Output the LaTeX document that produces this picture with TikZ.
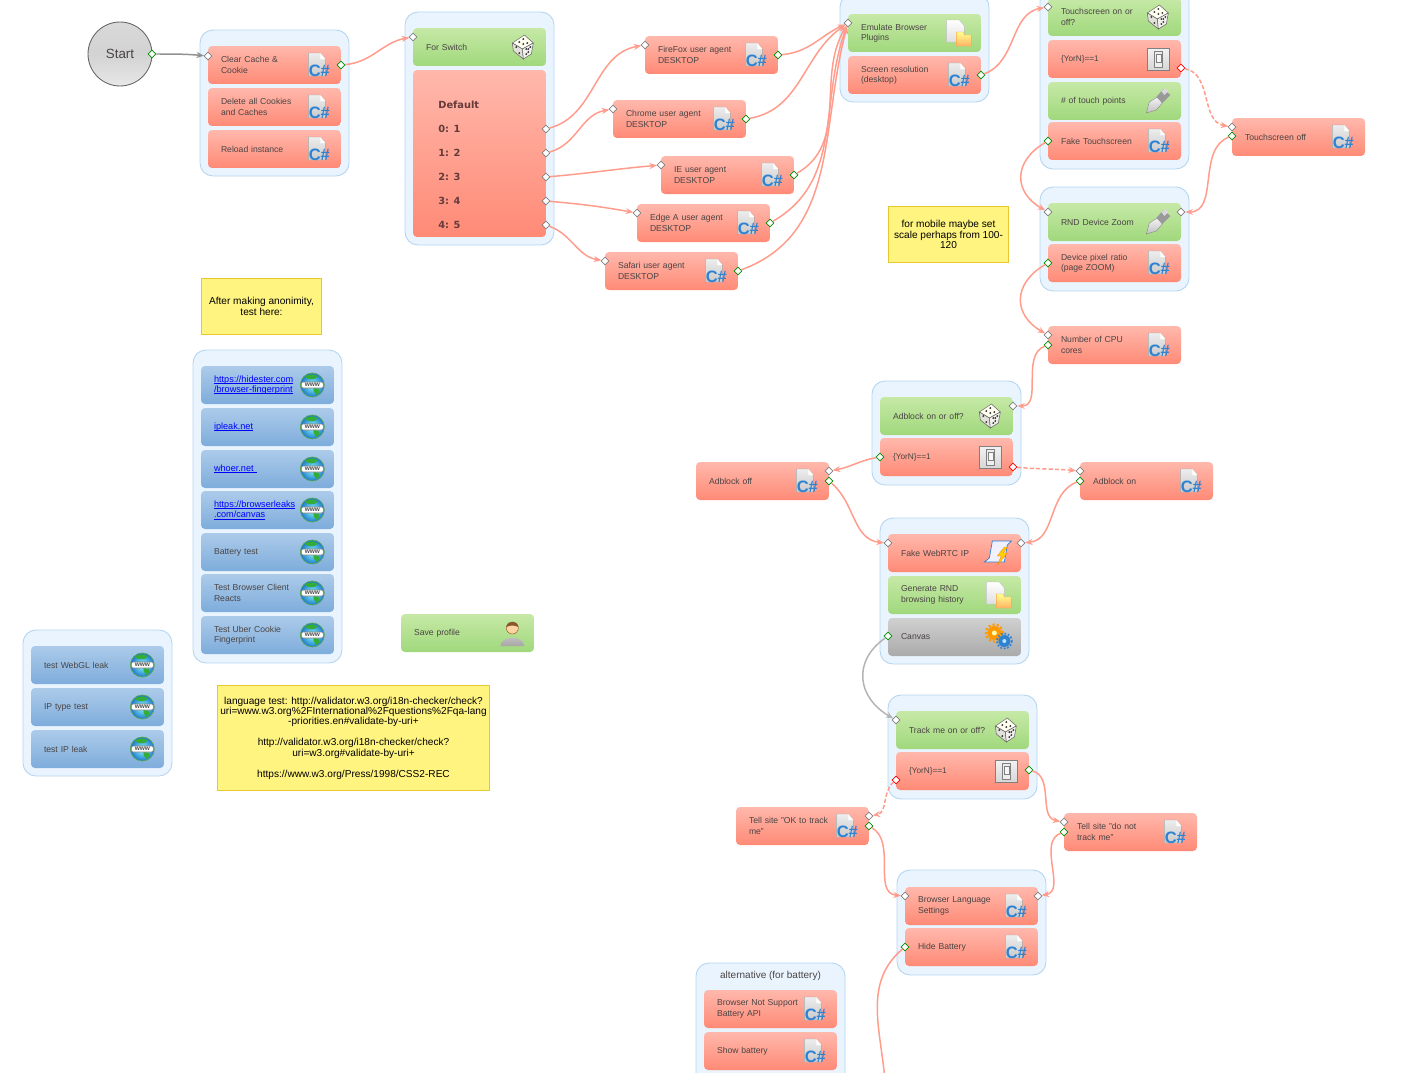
\documentclass[tikz,border=0pt]{standalone}
\usepackage{fontspec}
\setmainfont{Liberation Sans}
\newfontfamily\deffont{DejaVu Sans}
\usetikzlibrary{shapes.geometric,arrows.meta}

\definecolor{paneledge}{HTML}{B4D5F0}
\definecolor{panelfill}{HTML}{EAF4FE}
\definecolor{acttext}{HTML}{4A4444}
\definecolor{linkred}{HTML}{FF9C8C}
\definecolor{linkgray}{HTML}{B4B4B4}
\definecolor{startgray}{HTML}{909090}
\definecolor{notefill}{HTML}{FFF480}
\definecolor{noteedge}{HTML}{E8C830}
\definecolor{csblue}{HTML}{2F82D2}

\newsavebox{\linkbox}
\newcommand{\weblink}[1]{\leavevmode{\fontsize{5.2}{5.95}\selectfont\color{blue}\sbox{\linkbox}{#1}\rlap{\rule[-.7pt]{\wd\linkbox}{.3pt}}\usebox{\linkbox}}}

\tikzset{
panel/.style={draw=paneledge,fill=panelfill,line width=.5pt,rounded corners=.26cm},
act/.style={rounded corners=.08cm,text=acttext,align=left,text width=2.14cm,inner xsep=.26cm,
  inner ysep=0pt,minimum height=.76cm,font=\fontsize{4.9}{5.95}\selectfont},
redact/.style={act,top color={rgb,255:red,255;green,184;blue,172},bottom color={rgb,255:red,255;green,138;blue,118}},
greenact/.style={act,top color={rgb,255:red,198;green,233;blue,166},bottom color={rgb,255:red,160;green,216;blue,124}},
blueact/.style={act,top color={rgb,255:red,172;green,203;blue,233},bottom color={rgb,255:red,126;green,172;blue,220}},
grayact/.style={act,top color={rgb,255:red,208;green,208;blue,208},bottom color={rgb,255:red,170;green,170;blue,170}},
note/.style={draw=noteedge,fill=notefill,line width=.4pt,align=center,inner sep=0pt,text=black,
  font=\fontsize{5.75}{5.95}\selectfont},
port/.style={diamond,inner sep=0pt,minimum size=.16cm,fill=white,line width=.4pt},
portin/.style={port,draw=gray},
portok/.style={port,draw=green!55!black},
portno/.style={port,draw=red},
tip/.style={-{Stealth[length=.15cm,width=.12cm]}},
link/.style={draw=linkred,line width=.85pt,tip},
grlink/.style={draw=linkgray,line width=.85pt,tip},
stlink/.style={draw=startgray,line width=.85pt,tip},
nolink/.style={link,dash pattern=on 2.4pt off 1.2pt},
csicon/.pic={
  \path[draw=gray!70,top color=gray!14,bottom color=gray!42,line width=.2pt]
    (-10,-12) -- (2,-12) -- (7,-6) -- (7,11) -- (-10,11) -- cycle;
  \fill[white] (2,-12) -- (7,-6) -- (2,-6) -- cycle;
  \node[text=csblue,inner sep=0pt,font=\fontsize{9.4}{9.4}\bfseries\selectfont] (-mark) at (1,5.5) {C\#};
},
diceicon/.pic={
  \path[draw=gray!80!black,fill=yellow!6,line width=.3pt] (-11,-4) -- (1,-12) -- (10,-4) -- (-1,2) -- cycle;
  \path[draw=gray!80!black,fill=yellow!12!gray!30,line width=.3pt] (-11,-4) -- (-1,2) -- (0,12) -- (-10,4) -- cycle;
  \path[draw=gray!80!black,fill=yellow!14!gray!14,line width=.3pt] (-1,2) -- (10,-4) -- (8,7) -- (0,12) -- cycle;
  \foreach \dotx/\doty in {-4/-5,0/-8,4/-4,0/-3,-7/0,-4/6,3/2,7/0,5/5,3/7,5/2}
  {
  \fill[black!80] (\dotx,\doty) circle (1.1);
  }
},
switchicon/.pic={
  \path[draw=gray,top color=gray!10,bottom color=gray!32,line width=.3pt] (-11,-11) rectangle (11,11);
  \path[draw=gray,fill=gray!14,line width=.3pt] (-4,-8) rectangle (4,8);
  \path[draw=gray,fill=gray!6,line width=.2pt] (-2.5,-5) rectangle (2.5,3);
},
penicon/.pic={
  \path[draw=gray,top color=gray!8,bottom color=gray!50,line width=.2pt]
    (-12,12) -- (-9,1) -- (-1,-4) -- (4,2) -- (-2,9) -- cycle;
  \path[fill=gray!80] (-2,-4) -- (5,-12) -- (12,-6) -- (4,2) -- cycle;
  \path[fill=gray!30] (3,-10) -- (7,-13) -- (10,-10) -- (6,-6) -- cycle;
},
foldericon/.pic={
  \path[draw=gray!50,top color=white,bottom color=gray!25,line width=.2pt]
    (-12,-13) -- (1,-13) -- (6,-7) -- (6,9) -- (-12,9) -- cycle;
  \path[draw=orange!70,top color=yellow!45,bottom color=orange!60,line width=.2pt]
    (-2,-1) -- (5,-1) -- (6,2) -- (13,2) -- (13,13) -- (-2,13) -- cycle;
},
gearicon/.pic={
  \fill[orange!80!yellow] (-4,-4) circle (7);
  \draw[orange!80!yellow,line width=1.2pt,dash pattern=on 1.2pt off 1.2pt] (-4,-4) circle (8.5);
  \fill[yellow!30] (-4,-4) circle (2.5);
  \fill[csblue] (6,4) circle (6);
  \draw[csblue,line width=1pt,dash pattern=on 1pt off 1pt] (6,4) circle (7.5);
  \fill[cyan!30] (6,4) circle (2);
},
scrollicon/.pic={
  \path[draw=csblue,fill=blue!6,line width=.4pt]
    (-6,-12) -- (13,-12) -- (9,-8) -- (6,9) -- (-14,9) -- (-9,5) -- cycle;
  \path[fill=yellow!70!orange,draw=orange,line width=.2pt]
    (6,-6) -- (-1,3) -- (3,3) -- (-1,12) -- (9,0) -- (5,0) -- (9,-6) -- cycle;
},
personicon/.pic={
  \path[top color=gray!45,bottom color=gray!70] (-12,13) .. controls (-11,2) and (11,2) .. (12,13) -- cycle;
  \path[fill=orange!35!white,draw=orange!50!black,line width=.2pt] (0,-5) circle (6);
  \path[fill=brown!70!black] (-6,-6) .. controls (-5,-13) and (5,-13) .. (6,-6) .. controls (2,-8) and (-2,-8) .. (-6,-6) -- cycle;
},
globeicon/.pic={
  \path[inner color=cyan!45!white,outer color={rgb,255:red,30;green,120;blue,200},draw=green!30!gray,line width=.4pt] (0,0) circle (12);
  \fill[green!60!black!80!white] (-8,-8) .. controls (-2,-12) and (4,-11) .. (5,-8) .. controls (2,-5) and (-3,-5) .. (-8,-8) -- cycle;
  \fill[green!60!black!80!white] (1,3) .. controls (7,3) and (9,5) .. (5,10) .. controls (3,10) and (1,6) .. (1,3) -- cycle;
  \path[fill=white,draw=gray,line width=.3pt,rounded corners=.04cm] (-11,-3) rectangle (11,3);
  \node[text=black!70,inner sep=0pt,font=\fontsize{3.7}{3.7}\bfseries\selectfont] (-mark) at (0,-.2) {www};
}
}

\begin{document}
\begin{tikzpicture}[x=.02cm,y=-.02cm]
\useasboundingbox (0,0) rectangle (1420,1072);
\clip (0,0) rectangle (1420,1072);

% containers
\foreach \xa/\ya/\xb/\yb in {200/30/349/176,405/12/554/245,840/-6/989/102,1040/-12/1189/169,
  1040/187/1189/291,872/381/1021/485,880/518/1029/664,888/695/1037/799,897/870/1046/975,
  696/963/845/1090,193/350/342/663,23/630/172/776}
{
\draw[panel] (\xa,\ya) rectangle (\xb,\yb);
}
\node[inner sep=0pt,text=acttext,font=\fontsize{5.7}{6}\selectfont] (alttitle) at (770.5,976) {alternative (for battery)};

% start
\node[circle,draw=gray!80!black,line width=.5pt,minimum size=1.28cm,inner sep=0pt,top color=gray!30,
  bottom color=gray!18,middle color=gray!35,text=acttext,font=\fontsize{7.6}{8}\selectfont] (start) at (120,54) {Start};

% first row
\node[redact] (clear) at (274.5,65) {Clear Cache \&\\Cookie};
\node[redact] (cookies) at (274.5,107) {Delete all Cookies\\and Caches};
\node[redact] (reload) at (274.5,149) {Reload instance};
\node[greenact] (switch) at (479.5,47) {For Switch};
\node[redact,minimum height=3.34cm] (default) at (479.5,153.5) {};
\node[anchor=west,inner sep=0pt,align=left,text=acttext!85!red,font=\deffont\bfseries\fontsize{5.6}{13.6}\selectfont] (defaultlbl) at (438,165)
  {Default\\0: 1\\1: 2\\2: 3\\3: 4\\4: 5};
\node[redact] (firefox) at (711.5,55) {FireFox user agent\\DESKTOP};
\node[redact] (chrome) at (679.5,119) {Chrome user agent\\DESKTOP};
\node[redact] (ie) at (727.5,175) {IE user agent\\DESKTOP};
\node[redact] (edge) at (703.5,223) {Edge A user agent\\DESKTOP};
\node[redact] (safari) at (671.5,271) {Safari user agent\\DESKTOP};
\node[greenact] (emulate) at (914.5,33) {Emulate Browser\\Plugins};
\node[redact] (screen) at (914.5,75) {Screen resolution\\(desktop)};

% touch and zoom
\node[greenact] (tson) at (1114.5,17) {Touchscreen on or\\off?};
\node[redact] (tsyn) at (1114.5,59) {\fontsize{4.7}{5}\selectfont\{YorN\}==1};
\node[greenact] (tspoints) at (1114.5,101) {\# of touch points};
\node[redact] (tsfake) at (1114.5,141) {Fake Touchscreen};
\node[redact] (tsoff) at (1298.5,137) {Touchscreen off};
\node[greenact] (rndzoom) at (1114.5,222) {RND Device Zoom};
\node[redact] (pixel) at (1114.5,263) {Device pixel ratio\\(page ZOOM)};
\node[redact] (cpu) at (1114.5,345) {Number of CPU\\cores};

% adblock
\node[greenact] (adbask) at (946.5,416) {Adblock on or off?};
\node[redact] (adbyn) at (946.5,457) {\fontsize{4.7}{5}\selectfont\{YorN\}==1};
\node[redact] (adboff) at (762.5,481) {Adblock off};
\node[redact] (adbon) at (1146.5,481) {Adblock on};
\node[redact] (webrtc) at (954.5,553) {Fake WebRTC IP};
\node[greenact] (history) at (954.5,595) {Generate RND\\browsing history};
\node[grayact] (canvas) at (954.5,637) {Canvas};

% tracking
\node[greenact] (track) at (962.5,730) {Track me on or off?};
\node[redact] (trackyn) at (962.5,771) {\fontsize{4.7}{5}\selectfont\{YorN\}==1};
\node[redact] (tellok) at (802.5,826) {Tell site "OK to track\\me"};
\node[redact] (telldnt) at (1130.5,832) {Tell site "do not\\track me"};
\node[redact] (lang) at (971.5,906) {Browser Language\\Settings};
\node[redact] (hidebat) at (971.5,947) {Hide Battery};
\node[redact] (nosupport) at (770.5,1009) {Browser Not Support\\Battery API};
\node[redact] (showbat) at (770.5,1051) {Show battery};

% test pages
\node[blueact] (hidester) at (267.5,385) {\weblink{https://hidester.com}\\\weblink{/browser-fingerprint}};
\node[blueact] (ipleak) at (267.5,427) {\weblink{ipleak.net}};
\node[blueact] (whoer) at (267.5,469) {\weblink{whoer.net\ }};
\node[blueact] (leaks) at (267.5,510) {\weblink{https://browserleaks}\\\weblink{.com/canvas}};
\node[blueact] (battest) at (267.5,552) {Battery test};
\node[blueact] (reacts) at (267.5,593) {Test Browser Client\\Reacts};
\node[blueact] (uber) at (267.5,635) {Test Uber Cookie\\Fingerprint};
\node[blueact] (webgl) at (97.5,665) {test WebGL leak};
\node[blueact] (iptype) at (97.5,707) {IP type test};
\node[blueact] (ipleaktest) at (97.5,749) {test IP leak};
\node[greenact] (save) at (467.5,633) {Save profile};

% notes
\node[note,minimum width=2.4cm,minimum height=1.12cm] (noteafter) at (261.5,306.5) {After making anonimity,\\test here:};
\node[note,minimum width=2.4cm,minimum height=1.12cm] (notemobile) at (948.5,234.5) {for mobile maybe set\\scale perhaps from 100-\\120};
\node[note,minimum width=5.44cm,minimum height=2.1cm] (notelang) at (353.5,738) {language test:  http://validator.w3.org/i18n-checker/check?\\
  uri=www.w3.org\%2FInternational\%2Fquestions\%2Fqa-lang\\-priorities.en\#validate-by-uri+\\ \mbox{}\\
  http://validator.w3.org/i18n-checker/check?\\uri=w3.org\#validate-by-uri+\\ \mbox{}\\
  https://www.w3.org/Press/1998/CSS2-REC};

% icons
\foreach \n in {clear,cookies,reload,firefox,chrome,ie,edge,safari,screen,tsfake,tsoff,pixel,cpu,
  adboff,adbon,tellok,telldnt,lang,hidebat,nosupport,showbat}
{
\pic (\n-ic) at ([xshift=-.46cm]\n.east) {csicon};
}
\foreach \n in {switch,tson,adbask,track}
{
\pic (\n-ic) at ([xshift=-.46cm]\n.east) {diceicon};
}
\foreach \n in {tsyn,adbyn,trackyn}
{
\pic (\n-ic) at ([xshift=-.46cm]\n.east) {switchicon};
}
\foreach \n in {tspoints,rndzoom}
{
\pic (\n-ic) at ([xshift=-.46cm]\n.east) {penicon};
}
\foreach \n in {emulate,history}
{
\pic (\n-ic) at ([xshift=-.46cm]\n.east) {foldericon};
}
\foreach \n in {hidester,ipleak,whoer,leaks,battest,reacts,uber,webgl,iptype,ipleaktest}
{
\pic (\n-ic) at ([xshift=-.44cm]\n.east) {globeicon};
}
\pic (canvas-ic) at ([xshift=-.46cm]canvas.east) {gearicon};
\pic (webrtc-ic) at ([xshift=-.46cm]webrtc.east) {scrollicon};
\pic (save-ic) at ([xshift=-.44cm]save.east) {personicon};

% ports
\foreach \n/\x/\y in {pclearin/208/56,pswitchin/413/37,pdefa/546/129,pdefb/546/153,pdefc/546/177,
  pdefd/546/201,pdefe/546/225,pffin/645/45,pchromein/613/109,pien/661/165,pedgein/637/213,
  psafin/605/261,pemin/848/23,ptsin/1048/7,poffa/1232/127,prndin/1048/212,prndout/1181/212,
  pcpua/1048/335,padbin/1013/406,padboffa/829/471,padbona/1080/471,pwebl/888/543,pwebr/1021/543,
  ptrackin/896/720,ptellok/869/816,ptelldnt/1064/822,plangl/905/896,plangr/1038/896}
{
\node[portin] (\n) at (\x,\y) {};
}
\foreach \n/\x/\y in {pstart/152/54,pclearout/341/65,pffout/778/55,pchromeout/746/119,pieout/794/175,
  pedgeout/770/223,psafout/738/271,pscreen/981/75,pfake/1048/141,poffb/1232/136,ppixel/1048/263,
  pcpub/1048/345,padbyes/880/457,padboffb/829/481,padbonb/1080/481,pcanvas/888/636,ptrackyes/1029/770,
  ptellokb/869/826,ptelldntb/1064/832,phide/905/947}
{
\node[portok] (\n) at (\x,\y) {};
}
\foreach \n/\x/\y in {ptsno/1181/68,padbno/1013/467,ptrackno/896/780}
{
\node[portno] (\n) at (\x,\y) {};
}
\coordinate (hideend) at (885,1080);

% connectors
\draw[stlink] (pstart) to[out=0,in=175] (pclearin);
\draw[grlink] (pcanvas) to[out=215,in=150,looseness=1.3] (ptrackin);
\draw[link] (pclearout) to[out=5,in=190] (pswitchin);
\draw[link] (pdefa) to[out=15,in=190] (pffin);
\draw[link] (pdefb) to[out=15,in=190] (pchromein);
\draw[link] (pdefc) to[out=5,in=185] (pien);
\draw[link] (pdefd) to[out=-5,in=170] (pedgein);
\draw[link] (pdefe) to[out=-20,in=170] (psafin);
\draw[link] (pffout) to[out=5,in=205] (pemin);
\draw[link] (pchromeout) to[out=10,in=215] (pemin);
\draw[link] (pieout) to[out=30,in=240] (pemin);
\draw[link] (pedgeout) to[out=30,in=250] (pemin);
\draw[link] (psafout) to[out=20,in=255] (pemin);
\draw[link] (pscreen) to[out=20,in=190] (ptsin);
\draw[nolink] (ptsno) to[out=-10,in=170] (poffa);
\draw[link] (pfake) to[out=210,in=150,looseness=1.4] (prndin);
\draw[link] (poffb) to[out=200,in=0] (prndout);
\draw[link] (ppixel) to[out=210,in=150,looseness=1.4] (pcpua);
\draw[link] (pcpub) to[out=200,in=0] (padbin);
\draw[link] (padbyes) to[out=190,in=10] (padboffa);
\draw[nolink] (padbno) to[out=-5,in=175] (padbona);
\draw[link] (padboffb) to[out=-40,in=175] (pwebl);
\draw[link] (padbonb) to[out=200,in=5] (pwebr);
\draw[nolink] (ptrackno) to[out=220,in=10] (ptellok);
\draw[link] (ptrackyes) to[out=-15,in=170] (ptelldnt);
\draw[link] (ptellokb) to[out=-30,in=175] (plangl);
\draw[link] (ptelldntb) to[out=200,in=10] (plangr);
\draw[draw=linkred,line width=.85pt] (phide) to[out=220,in=95] (hideend);
\end{tikzpicture}
\end{document}
